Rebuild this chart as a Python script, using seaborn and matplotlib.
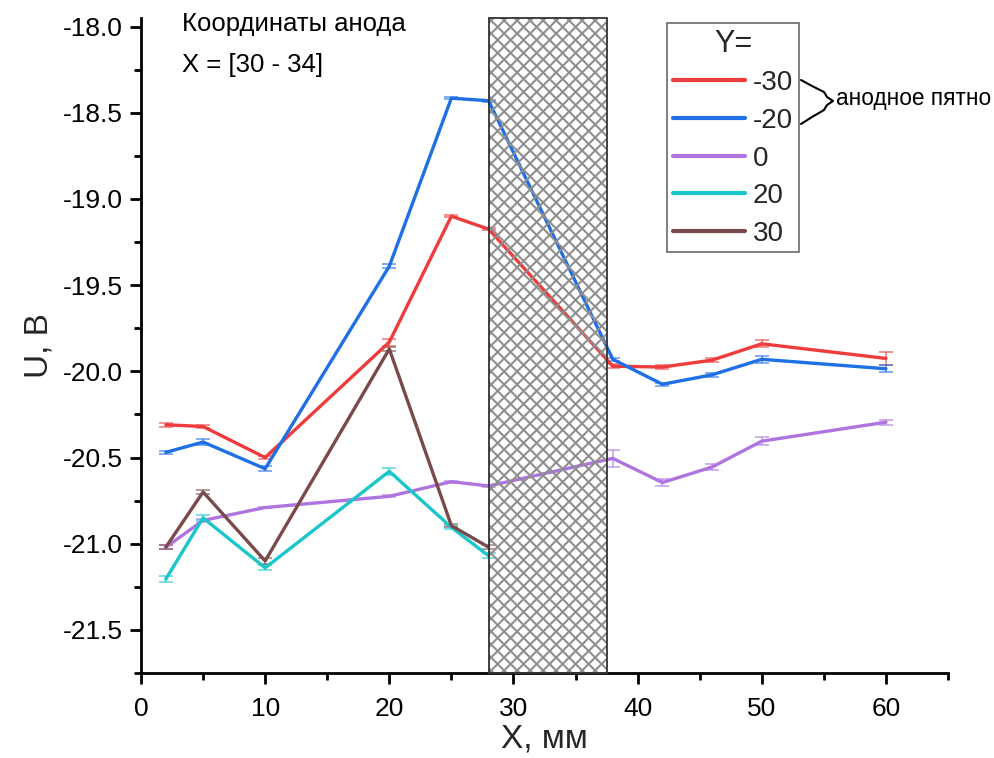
import numpy as np
import pandas as pd
import seaborn as sns
import matplotlib
matplotlib.use("Agg")
import matplotlib.pyplot as plt
from matplotlib.patches import Rectangle
from matplotlib.collections import LineCollection
from matplotlib.lines import Line2D
from matplotlib.transforms import IdentityTransform
from matplotlib.ticker import MultipleLocator, FormatStrFormatter

# ---- data ----
x_full = [2, 5, 10, 20, 25, 28, 38, 42, 46, 50, 60]
x_short = [2, 5, 10, 20, 25, 28]

u_m30 = [-20.31, -20.32, -20.50, -19.83, -19.10, -19.175, -19.97, -19.975, -19.935, -19.84, -19.925]
e_m30 = [0.01, 0.01, 0.01, 0.02, 0.005, 0.005, 0.01, 0.01, 0.01, 0.02, 0.04]
u_m20 = [-20.47, -20.41, -20.565, -19.39, -18.415, -18.43, -19.93, -20.075, -20.02, -19.93, -19.985]
e_m20 = [0.01, 0.015, 0.015, 0.01, 0.005, 0.005, 0.01, 0.01, 0.01, 0.02, 0.02]
u_0 = [-21.02, -20.865, -20.79, -20.725, -20.64, -20.665, -20.505, -20.645, -20.555, -20.405, -20.295]
e_0 = [0.01, 0.01, 0.005, 0.005, 0.005, 0.005, 0.05, 0.02, 0.02, 0.025, 0.015]
u_20 = [-21.205, -20.85, -21.14, -20.58, -20.905, -21.07]
e_20 = [0.015, 0.015, 0.015, 0.02, 0.01, 0.015]
u_30 = [-21.02, -20.70, -21.10, -19.87, -20.895, -21.02]
e_30 = [0.01, 0.01, 0.02, 0.01, 0.01, 0.01]

series_labels = ["-30", "-20", "0", "20", "30"]
colors = ["#EE3B3B", "#1F6FE5", "#AE74E0", "#19C6C9", "#7A4A4A"]
anode_span = (28.0, 37.5)

xs = [x_full, x_full, x_full, x_short, x_short]
us = [u_m30, u_m20, u_0, u_20, u_30]
es = [e_m30, e_m20, e_0, e_20, e_30]

df = pd.concat([pd.DataFrame({"X": x, "U": u, "Err": e, "Y": lab})
                for x, u, e, lab in zip(xs, us, es, series_labels)], ignore_index=True)

# ---- figure ----
sns.set_theme(style="ticks")
plt.rcParams["font.family"] = ["Liberation Sans", "DejaVu Sans"]
W, H = 995, 758
fig = plt.figure(figsize=(W / 100, H / 100), dpi=100)
ax = fig.add_axes([141 / W, 1 - 673 / H, (948 - 141) / W, (673 - 18) / H])

pal = dict(zip(series_labels, colors))
sns.lineplot(data=df, x="X", y="U", hue="Y", palette=pal, estimator=None, sort=False,
             linewidth=2.4, ax=ax, legend=False, zorder=3)
for lab in series_labels:
    d = df[df["Y"] == lab]
    ax.errorbar(d["X"], d["U"], yerr=d["Err"], fmt="none", ecolor=pal[lab], alpha=0.6,
                elinewidth=1.3, capsize=5, capthick=1.3, zorder=2)

ax.set_xlim(0, 65)
ax.set_ylim(-21.75, -17.95)
ax.xaxis.set_major_locator(MultipleLocator(10))
ax.xaxis.set_minor_locator(MultipleLocator(5))
ax.yaxis.set_major_locator(MultipleLocator(0.5))
ax.yaxis.set_minor_locator(MultipleLocator(0.25))
ax.yaxis.set_major_formatter(FormatStrFormatter("%.1f"))
ax.tick_params(which="major", length=8, width=2, labelsize=19, color="black", labelcolor="black")
ax.tick_params(which="minor", length=5, width=2, color="black")
ax.tick_params(axis="y", which="both", pad=5)
ax.tick_params(axis="x", which="both", pad=9)
for s in ["top", "right"]:
    ax.spines[s].set_visible(False)
for s in ["left", "bottom"]:
    ax.spines[s].set_linewidth(2)
    ax.spines[s].set_color("black")

ax.set_xlabel("X, мм", fontsize=24, labelpad=2)
ax.set_ylabel("U, В", fontsize=24, labelpad=6)

# hatched anode region
rect = Rectangle((anode_span[0], 0), anode_span[1] - anode_span[0], 1,
                 transform=ax.get_xaxis_transform(), facecolor="none",
                 edgecolor="#333333", linewidth=1.3, zorder=5, clip_on=False)
ax.add_patch(rect)
fig.canvas.draw()
x0p, y0p = ax.transData.transform((anode_span[0], -21.75))
x1p, y1p = ax.transData.transform((anode_span[1], -17.95))
period = 13.0
hgt = y1p - y0p
segs = []
for kk in range(-int(hgt / period) - 2, int((x1p - x0p) / period) + 3):
    xa = x0p + kk * period
    xl, xr = max(x0p, xa), min(x1p, xa + hgt)
    if xr <= xl:
        continue
    segs.append([(xl, y0p + (xl - xa)), (xr, y0p + (xr - xa))])
    segs.append([(xl, y1p - (xl - xa)), (xr, y1p - (xr - xa))])
lc = LineCollection(segs, colors="#8e8e8e", linewidths=1.5, transform=IdentityTransform(),
                    zorder=4)
lc.set_clip_on(False)
ax.add_collection(lc, autolim=False)

# text
fig.text(182 / W, 1 - 24 / H, "Координаты анода", fontsize=18.5, va="center", ha="left", color="black")
fig.text(182 / W, 1 - 65 / H, "X = [30 - 34]", fontsize=18.5, va="center", ha="left", color="black")

# legend
handles = [Line2D([], [], color=c, lw=3) for c in colors]
leg = fig.legend(handles, series_labels, title="Y=", loc="upper left",
                 bbox_to_anchor=(667 / W, 1 - 23 / H), bbox_transform=fig.transFigure,
                 fontsize=20, title_fontsize=22, handlelength=2.6, handletextpad=0.3,
                 labelspacing=0.42, borderpad=0.2, borderaxespad=0, fancybox=False,
                 frameon=True, edgecolor="#444444")
leg.get_frame().set_linewidth(1.2)
leg.set_zorder(10)

# brace annotation
bx = [801, 812, 824, 827, 833, 827, 824, 812, 801]
by = [80, 86, 92, 97, 101, 105, 110, 117, 124]
fig.add_artist(Line2D([p / W for p in bx], [1 - p / H for p in by], color="black", lw=1.5,
                      transform=fig.transFigure))
fig.text(836 / W, 1 - 99 / H, "анодное пятно", fontsize=16.3, va="center", ha="left", color="black")

fig.savefig("out.png", dpi=100)
